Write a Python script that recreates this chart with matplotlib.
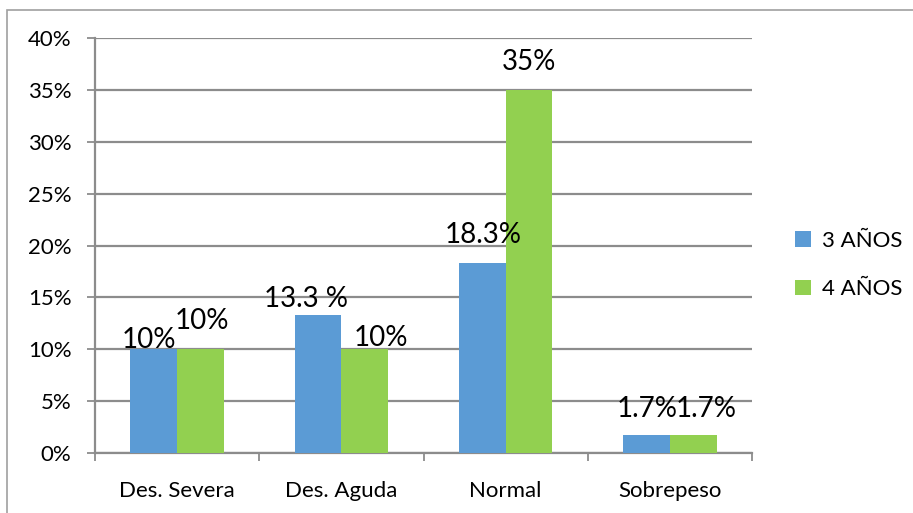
import matplotlib
matplotlib.use("Agg")
import matplotlib.pyplot as plt
import numpy as np
from matplotlib.patches import Rectangle

categories = ["Des. Severa", "Des. Aguda", "Normal", "Sobrepeso"]
series_names = ["3 AÑOS", "4 AÑOS"]
vals_3 = [10, 13.3, 18.3, 1.7]
vals_4 = [10, 10, 35, 1.7]
labels_3 = ["10%", "13.3 %", "18.3%", "1.7%"]
labels_4 = ["10%", "10%", "35%", "1.7%"]
yticks = [0, 5, 10, 15, 20, 25, 30, 35, 40]
ytick_labels = ["0%", "5%", "10%", "15%", "20%", "25%", "30%", "35%", "40%"]

# label nudges in pixels (dx, gap above bar), style only
nudge_3 = [(-5, 1), (-12, 8), (1, 20), (1, 18)]
nudge_4 = [(1, 20), (16, 3), (0, 20), (13, 18)]

colors = ["#5B9BD5", "#92D050"]
grid_c = "#8C8C8C"
font = "Lato"

W, H = 913, 513
fig = plt.figure(figsize=(W / 100, H / 100), dpi=100)
ax = fig.add_axes([95 / W, 1 - 453 / H, (752 - 95) / W, (453 - 38) / H])

x = np.arange(len(categories))
bw = 0.285
b1 = ax.bar(x - bw / 2, vals_3, bw, color=colors[0], label=series_names[0], zorder=3)
b2 = ax.bar(x + bw / 2, vals_4, bw, color=colors[1], label=series_names[1], zorder=3)

px2pt = 72 / 100
for bars, labs, nud in ((b1, labels_3, nudge_3), (b2, labels_4, nudge_4)):
    for r, lab, (dx, dy) in zip(bars, labs, nud):
        ax.annotate(lab, (r.get_x() + r.get_width() / 2, r.get_height()),
                    xytext=(dx * px2pt, dy * px2pt), textcoords="offset points",
                    ha="center", va="baseline",
                    fontsize=20, family=font, color="black", zorder=4)

ax.set_xlim(-0.5, len(categories) - 0.5)
ax.set_ylim(0, 40)
ax.set_yticks(yticks)
ax.set_yticklabels(ytick_labels, family=font, fontsize=16)
ax.yaxis.grid(True, color=grid_c, linewidth=1.6, zorder=0)
ax.set_xticks(x)
ax.set_xticklabels(categories, family=font, fontsize=16)
ax.tick_params(axis="x", length=0, pad=20)
ax.set_xticks(np.arange(len(categories) + 1) - 0.5, minor=True)
ax.tick_params(axis="x", which="minor", length=6, color=grid_c, width=1.3)
ax.tick_params(axis="y", length=6, color=grid_c, width=1.3, pad=11)
for s in ("top", "right"):
    ax.spines[s].set_visible(False)
for s in ("left", "bottom"):
    ax.spines[s].set_color(grid_c)
    ax.spines[s].set_linewidth(1.6)

leg = fig.legend(handles=[b1, b2], labels=series_names, loc="center left",
                 bbox_to_anchor=(775 / W, 1 - 265 / H), frameon=False,
                 prop={"family": font, "size": 16}, handlelength=0.7, handleheight=0.7,
                 labelspacing=1.3, handletextpad=0.5)

fig.patches.append(Rectangle((7 / W, -0.1), 1.2, 1 - 10 / H + 0.1, transform=fig.transFigure,
                             fill=False, edgecolor="#A0A0A0", linewidth=1.2))

fig.savefig("out.png", dpi=100)
